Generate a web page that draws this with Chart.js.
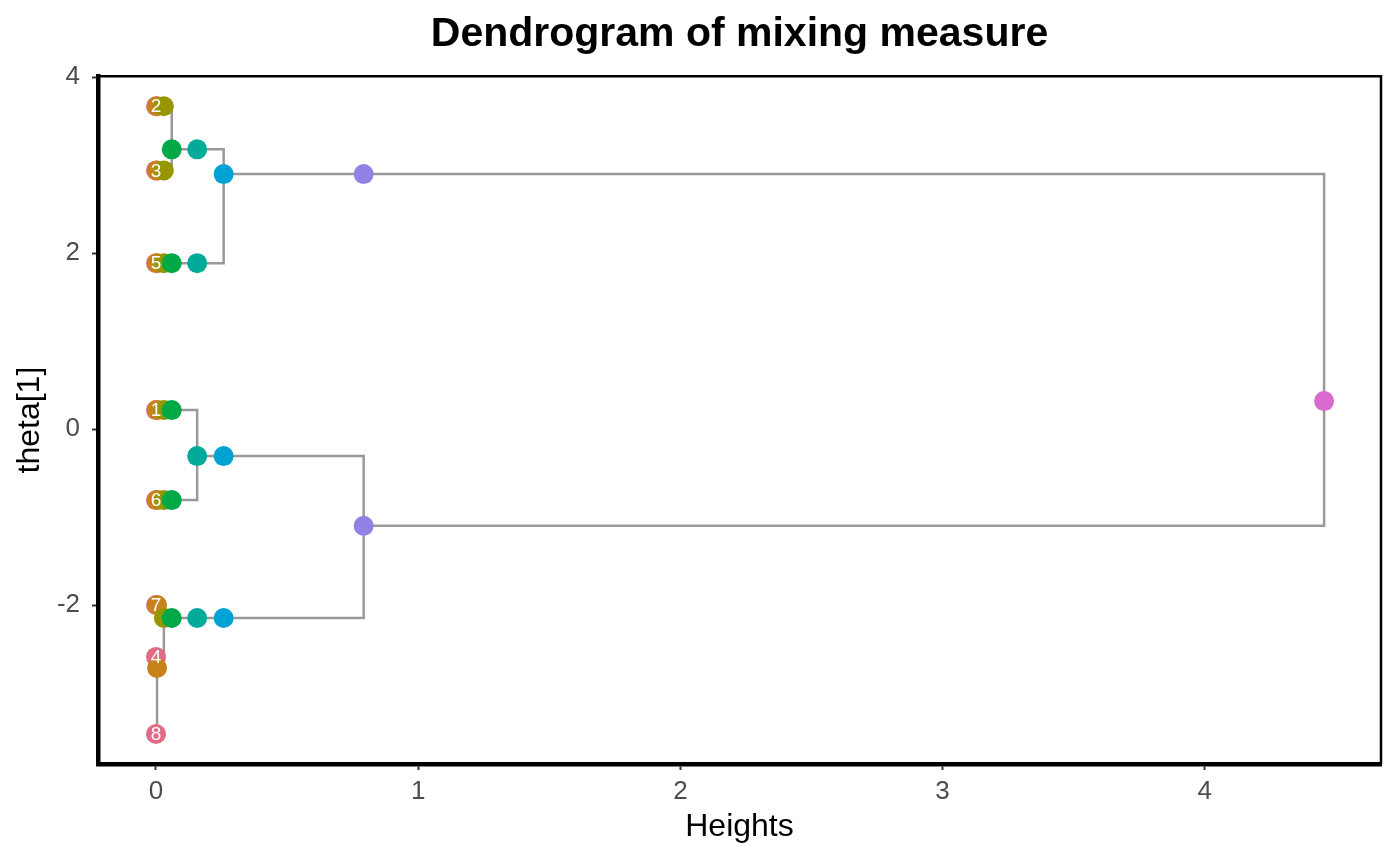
<!DOCTYPE html>
<html>
<head>
<meta charset="utf-8">
<title>Dendrogram of mixing measure</title>
<script src="https://cdn.jsdelivr.net/npm/chart.js@4.4.1/dist/chart.umd.min.js"></script>
<style>
html, body { margin: 0; padding: 0; background: #fff; }
#wrap { width: 1400px; height: 865px; }
</style>
</head>
<body>
<div id="wrap"><canvas id="myChart"></canvas></div>
<script>
// height of each merge level (x axis)
var heights = [0, 0.004, 0.03, 0.06, 0.157, 0.258, 0.792, 4.455];
var levelColors = ["#E16A86", "#C7821C", "#969600", "#00A846", "#00AB9A", "#00A2D3", "#9183E6", "#D86BCE"];

// atoms at level 0
var atomLabels = ["1", "2", "3", "4", "5", "6", "7", "8"];
var atomTheta = [0.216, 3.67, 2.94, -2.59, 1.886, -0.807, -2.0, -3.466];

// clusters of each level: theta value + which clusters of the level before they come from
var theta1 = [0.216, 3.67, 2.94, -2.716, 1.886, -0.807, -2.0];
var from1 = [[0], [1], [2], [3, 7], [4], [5], [6]];
var theta2 = [0.216, 3.67, 2.94, -2.148, 1.886, -0.807];
var from2 = [[0], [1], [2], [3, 6], [4], [5]];
var theta3 = [0.216, 3.18, -2.148, 1.886, -0.807];
var from3 = [[0], [1, 2], [3], [4], [5]];
var theta4 = [-0.307, 3.18, -2.148, 1.886];
var from4 = [[0, 4], [1], [2], [3]];
var theta5 = [-0.307, 2.898, -2.148];
var from5 = [[0], [1, 3], [2]];
var theta6 = [-1.10, 2.898];
var from6 = [[0, 2], [1]];
var theta7 = [0.318];
var from7 = [[0, 1]];

var xTicks = [0, 1, 2, 3, 4];
var yTicks = [-2, 0, 2, 4];

var levelTheta = [atomTheta, theta1, theta2, theta3, theta4, theta5, theta6, theta7];
var levelFrom = [null, from1, from2, from3, from4, from5, from6, from7];

var datasets = [];

// tree branches
for (var k = 1; k < levelTheta.length; k++) {
    levelFrom[k].forEach(function (kids) {
        var prev = levelTheta[k - 1];
        var pts;
        if (kids.length === 1) {
            pts = [{x: heights[k - 1], y: prev[kids[0]]}, {x: heights[k], y: prev[kids[0]]}];
        } else {
            pts = [
                {x: heights[k - 1], y: prev[kids[0]]},
                {x: heights[k], y: prev[kids[0]]},
                {x: heights[k], y: prev[kids[1]]},
                {x: heights[k - 1], y: prev[kids[1]]}
            ];
        }
        datasets.push({
            data: pts,
            showLine: true,
            borderColor: "#999999",
            borderWidth: 2.5,
            pointRadius: 0,
            order: 100
        });
    });
}

// points for every level
levelTheta.forEach(function (th, k) {
    datasets.push({
        data: th.map(function (t) { return {x: heights[k], y: t}; }),
        showLine: false,
        pointRadius: 10,
        pointBorderWidth: 0,
        backgroundColor: levelColors[k],
        borderColor: levelColors[k],
        order: 50 - k
    });
});

// atom numbers + top/right panel border
var extras = {
    id: "extras",
    afterDatasetsDraw: function (chart) {
        var ctx = chart.ctx;
        var xs = chart.scales.x, ys = chart.scales.y;
        ctx.save();
        ctx.fillStyle = "#ffffff";
        ctx.font = "19px 'Liberation Sans', Arial, sans-serif";
        ctx.textAlign = "center";
        ctx.textBaseline = "middle";
        atomLabels.forEach(function (lab, i) {
            ctx.fillText(lab, xs.getPixelForValue(heights[0]), ys.getPixelForValue(atomTheta[i]) + 1);
        });
        ctx.restore();
    },
    afterDraw: function (chart) {
        var a = chart.chartArea, ctx = chart.ctx;
        ctx.save();
        ctx.strokeStyle = "#000";
        ctx.lineWidth = 2.5;
        ctx.beginPath();
        ctx.moveTo(a.left, a.top);
        ctx.lineTo(a.right, a.top);
        ctx.lineTo(a.right, a.bottom);
        ctx.stroke();
        ctx.restore();
    }
};

var tickFont = {family: "'Liberation Sans', Arial, sans-serif", size: 26};
var titleFont = {family: "'Liberation Sans', Arial, sans-serif", size: 32};

var chart = new Chart(document.getElementById("myChart"), {
    type: "scatter",
    data: {datasets: datasets},
    plugins: [extras],
    options: {
        responsive: true,
        maintainAspectRatio: false,
        animation: false,
        events: [],
        devicePixelRatio: 1,
        layout: {padding: {left: 0, right: 19, top: 0, bottom: 0}},
        plugins: {
            legend: {display: false},
            tooltip: {enabled: false},
            title: {
                display: true,
                text: "Dendrogram of mixing measure",
                color: "#000",
                fullSize: false,
                font: {family: "'Liberation Sans', Arial, sans-serif", size: 41, weight: "bold"},
                padding: {top: 10, bottom: 17}
            }
        },
        scales: {
            x: {
                type: "linear",
                min: -0.2212,
                max: 4.672,
                afterBuildTicks: function (s) { s.ticks = xTicks.map(function (v) { return {value: v}; }); },
                afterFit: function (s) { s.height = 101; },
                border: {display: true, color: "#000", width: 4.5},
                grid: {drawOnChartArea: false, drawTicks: true, tickLength: 6, tickWidth: 2, tickColor: "#333"},
                ticks: {color: "#4D4D4D", font: tickFont, padding: 6, maxRotation: 0},
                title: {display: true, text: "Heights", color: "#000", font: titleFont, padding: {top: 0, bottom: 19}}
            },
            y: {
                type: "linear",
                min: -3.807,
                max: 4.011,
                afterBuildTicks: function (s) { s.ticks = yTicks.map(function (v) { return {value: v}; }); },
                afterFit: function (s) { s.width = 98; },
                border: {display: true, color: "#000", width: 4.5},
                grid: {drawOnChartArea: false, drawTicks: true, tickLength: 6, tickWidth: 2, tickColor: "#333"},
                ticks: {color: "#4D4D4D", font: tickFont, padding: 12},
                title: {display: true, text: "theta[1]", color: "#000", font: titleFont, padding: {top: 11, bottom: 0}}
            }
        }
    }
});
</script>
</body>
</html>
